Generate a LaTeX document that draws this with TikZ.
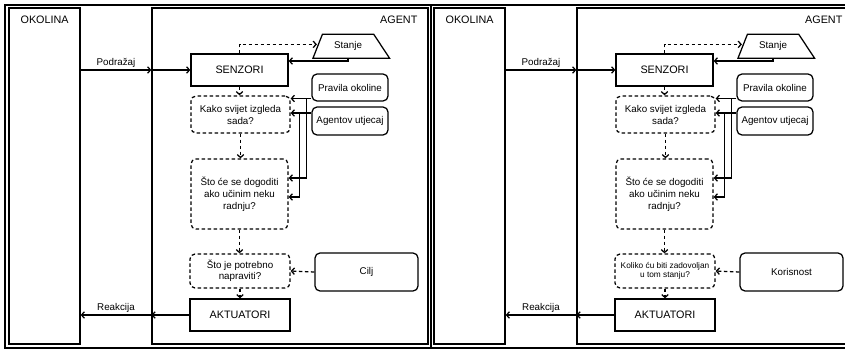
\documentclass[tikz,border=0pt]{standalone}
\usepackage{fontspec}
\setmainfont{Liberation Sans}
\usetikzlibrary{shapes.geometric,arrows.meta,positioning,calc}

\begin{document}
\begin{tikzpicture}[
    x=1pt, y=-1pt,
    line width=1.25pt,
    box/.style={draw, rectangle, inner sep=0pt, font=\fontsize{10.8}{13}\selectfont},
    rbox/.style={draw, rectangle, rounded corners=5pt, inner sep=0pt, align=center, font=\fontsize{9.8}{12}\selectfont},
    dbox/.style={rbox, dash pattern=on 3.5pt off 2.5pt},
    dsh/.style={dash pattern=on 3.5pt off 2.5pt},
    arr/.style={-{Straight Barb[length=3pt,width=6.5pt]}},
    lbl/.style={font=\fontsize{9.8}{12}\selectfont, inner sep=1.5pt},
    ttl/.style={font=\fontsize{10.8}{13}\selectfont, inner sep=0pt}
]
\useasboundingbox (0,0) rectangle (845,350);
\clip (0,0) rectangle (845,350);

% outer frames of the two panels
\draw (5,5) rectangle (431,348);
\draw (431,5) rectangle (860,348);

\foreach \dx/\p/\goal/\want/\fs/\bs in {0/l/Cilj/{Što je potrebno\\napraviti?}/9.8/11, 425/r/Korisnost/{Koliko ću biti zadovoljan\\u tom stanju?}/8.3/9.6}{
\begin{scope}[xshift=\dx pt, name prefix=\p-]
    % environment and agent
    \node [draw, inner sep=0pt, minimum width=71pt, minimum height=336pt] (okolina) at (44.5,176) {};
    \node [ttl, anchor=base west] (okolinaTxt) at (20,24) {OKOLINA};
    \node [draw, inner sep=0pt, minimum width=276pt, minimum height=336pt] (agent) at (290,176) {};
    \node [ttl, anchor=base east] (agentTxt) at (418,23.5) {AGENT};

    % inner parts
    \node [box, minimum width=97pt, minimum height=32pt] (senzori) at (239.5,70) {SENZORI};
    \node [draw, trapezium, trapezium stretches=true, trapezium left angle=65, trapezium right angle=52,
           minimum width=77pt, minimum height=24pt, inner sep=0pt, anchor=bottom left corner, lbl] (stanje) at (312,59) {Stanje};
    \node [rbox, minimum width=76pt, minimum height=27pt] (pravila) at (350,87.5) {Pravila okoline};
    \node [rbox, minimum width=76pt, minimum height=28pt] (agentov) at (350,121) {Agentov utjecaj};
    \node [dbox, minimum width=99pt, minimum height=37pt] (kako) at (240.5,114.5) {Kako svijet izgleda\\sada?};
    \node [dbox, minimum width=97pt, minimum height=70pt] (stoce) at (239.5,194) {Što će se dogoditi\\ako učinim neku\\radnju?};
    \node [dbox, minimum width=100pt, minimum height=34pt, font=\fontsize{\fs}{\bs}\selectfont] (want) at (240,271) {\want};
    \node [rbox, minimum width=103pt, minimum height=38pt] (goal) at (366.5,272) {\goal};
    \node [box, minimum width=100pt, minimum height=32pt] (aktuatori) at (240,315) {AKTUATORI};

    % connectors
    \draw [arr] (okolina.east |- senzori) -- node [lbl, above] {Podražaj} (agent.west |- senzori);
    \draw [arr] (agent.west |- senzori) -- (senzori);
    \draw [arr, dsh] (senzori.north) |- ([yshift=2pt]stanje.west);
    \draw [arr] (stanje.south) |- ([yshift=9pt]senzori.east);
    \draw [arr, dsh] (senzori.south) -- (kako.north -| senzori.south);
    \coordinate (pr) at ([yshift=-11pt]pravila.west);
    \coordinate (ag) at ([yshift=8pt]agentov.west);
    \draw [arr] (pr) -- (kako.east |- pr);
    \draw [arr] (ag) -- (kako.east |- ag);
    \draw [arr] ([xshift=-5pt]pr) |- ([yshift=16pt]stoce.east);
    \draw [arr] ([xshift=-12pt]ag) |- ([yshift=-3pt]stoce.east);
    \draw [arr, dsh] (kako.south) -- (stoce.north -| kako.south);
    \draw [arr, dsh] (stoce.south) -- (want.north -| stoce.south);
    \draw [arr, dsh] (want.south) -- (aktuatori.north -| want.south);
    \draw [arr, dsh] (goal.west) -- (want.east);
    \draw [arr] (aktuatori.west) -- (agent.west |- aktuatori);
    \draw [arr] (agent.west |- aktuatori) -- node [lbl, above] {Reakcija} (okolina.east |- aktuatori);
\end{scope}
}
\end{tikzpicture}
\end{document}
